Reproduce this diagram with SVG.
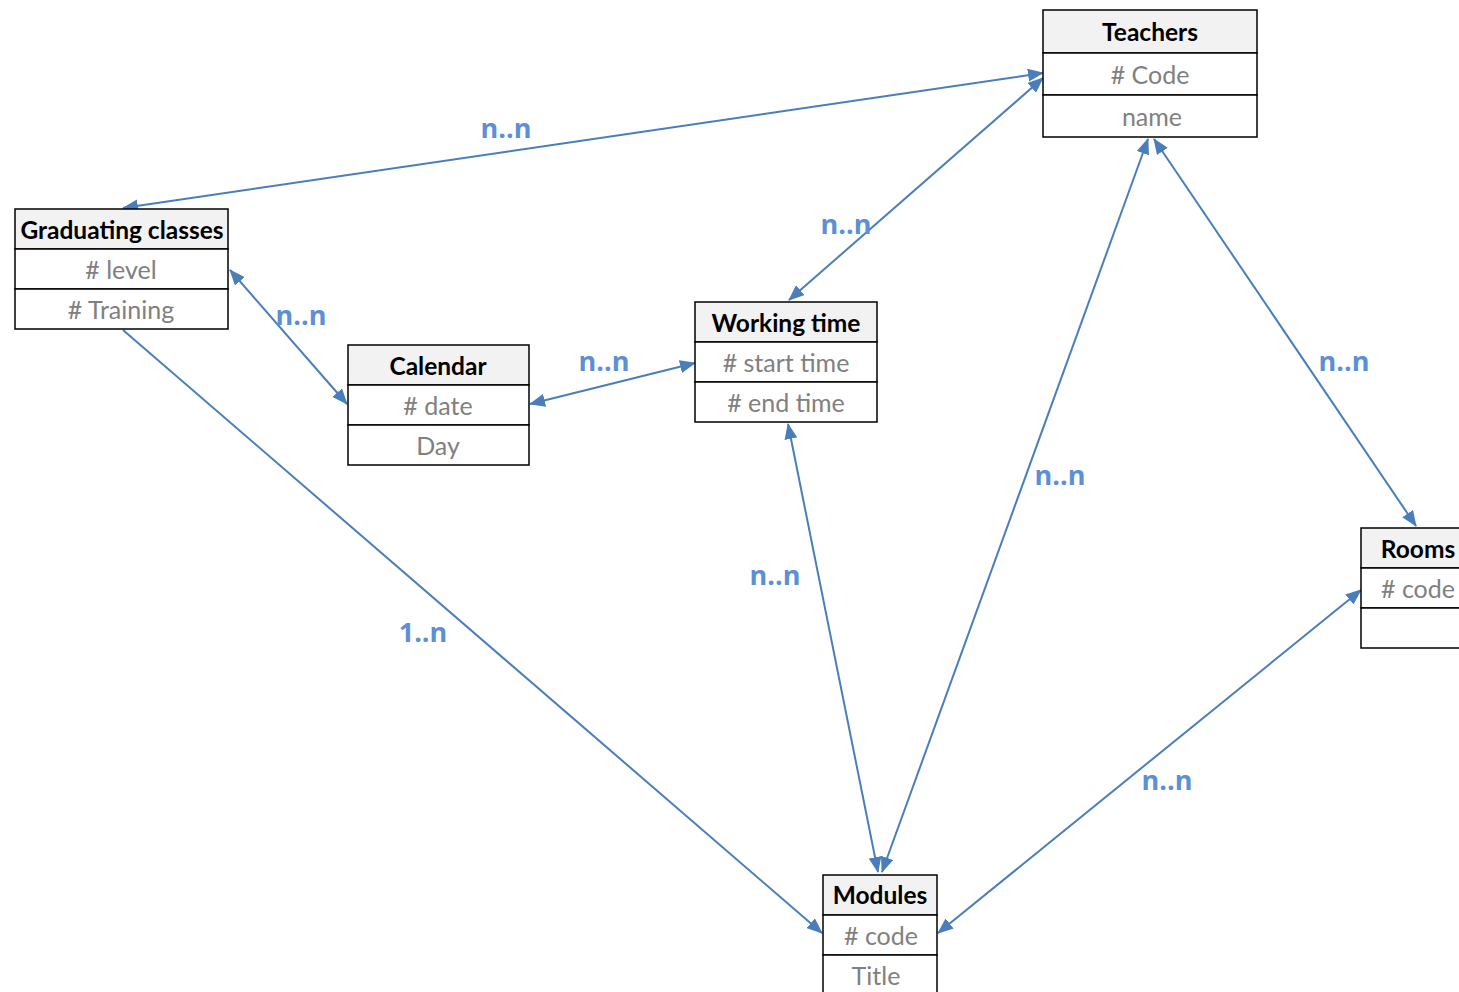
<svg xmlns="http://www.w3.org/2000/svg" width="1459" height="992" viewBox="0 0 1459 992">
<style>
.box{fill:#fff;stroke:#000;stroke-width:1.5}
.hd{fill:#f2f2f2;stroke:#000;stroke-width:1.5}
.t{font-family:Lato,"Open Sans","Liberation Sans",sans-serif;font-weight:bold;font-size:24.5px;fill:#000;text-anchor:middle}
.a{font-family:Lato,"Open Sans","Liberation Sans",sans-serif;font-size:25px;fill:#808080;text-anchor:middle}
.l{font-family:"Open Sans",Lato,"Liberation Sans",sans-serif;font-weight:bold;font-size:27px;fill:#5b8fd6;text-anchor:middle}
.c{stroke:#4a7ebb;stroke-width:2;fill:none;marker-start:url(#ah);marker-end:url(#ah)}
.c1{stroke:#4a7ebb;stroke-width:2;fill:none;marker-end:url(#ah)}
</style>
<defs>
<marker id="ah" viewBox="0 0 16 13" refX="15" refY="6.5" markerWidth="16" markerHeight="13" markerUnits="userSpaceOnUse" orient="auto-start-reverse">
<path d="M0,0 L16,6.5 L0,13 z" fill="#4a7ebb"/>
</marker>
</defs>
<rect width="1459" height="992" fill="#fff"/>
<g id="connectors">
<line class="c" x1="1043" y1="73" x2="123" y2="208"/>
<line class="c" x1="1043" y1="78" x2="789" y2="300"/>
<line class="c" x1="1148" y1="139" x2="882" y2="872"/>
<line class="c" x1="1154" y1="139" x2="1416" y2="526"/>
<line class="c" x1="230" y1="270" x2="347" y2="404"/>
<line class="c" x1="530" y1="404" x2="695" y2="363"/>
<line class="c1" x1="123" y1="330" x2="822" y2="933"/>
<line class="c" x1="1361" y1="590" x2="938" y2="933"/>
<line class="c" x1="788" y1="424" x2="878" y2="872"/>
<text class="l" x="506" y="138">n..n</text>
<text class="l" x="846" y="234">n..n</text>
<text class="l" x="1060" y="485">n..n</text>
<text class="l" x="775" y="585">n..n</text>
<text class="l" x="1344" y="371">n..n</text>
<text class="l" x="301" y="325">n..n</text>
<text class="l" x="604" y="371">n..n</text>
<text class="l" x="423" y="642">1..n</text>
<text class="l" x="1167" y="790">n..n</text>
</g>
<g id="teachers">
<rect class="hd" x="1043" y="10" width="214" height="43"/>
<rect class="box" x="1043" y="53" width="214" height="42"/>
<rect class="box" x="1043" y="95" width="214" height="42"/>
<text class="t" x="1150" y="41">Teachers</text>
<text class="a" x="1150" y="84"># Code</text>
<text class="a" x="1152" y="126">name</text>
</g>
<g id="graduating">
<rect class="hd" x="15" y="209" width="213" height="40"/>
<rect class="box" x="15" y="249" width="213" height="40"/>
<rect class="box" x="15" y="289" width="213" height="40"/>
<text class="t" x="122" y="239">Graduating classes</text>
<text class="a" x="121" y="279"># level</text>
<text class="a" x="121" y="319"># Training</text>
</g>
<g id="calendar">
<rect class="hd" x="348" y="345" width="181" height="40"/>
<rect class="box" x="348" y="385" width="181" height="40"/>
<rect class="box" x="348" y="425" width="181" height="40"/>
<text class="t" x="438" y="375">Calendar</text>
<text class="a" x="438" y="415"># date</text>
<text class="a" x="438" y="455">Day</text>
</g>
<g id="working">
<rect class="hd" x="695" y="302" width="182" height="40"/>
<rect class="box" x="695" y="342" width="182" height="40"/>
<rect class="box" x="695" y="382" width="182" height="40"/>
<text class="t" x="786" y="332">Working time</text>
<text class="a" x="786" y="372"># start time</text>
<text class="a" x="786" y="412"># end time</text>
</g>
<g id="rooms">
<rect class="hd" x="1361" y="528" width="110" height="40"/>
<rect class="box" x="1361" y="568" width="110" height="40"/>
<rect class="box" x="1361" y="608" width="110" height="40"/>
<text class="t" x="1418" y="558">Rooms</text>
<text class="a" x="1418" y="598"># code</text>
</g>
<g id="modules">
<rect class="hd" x="823" y="875" width="114" height="40"/>
<rect class="box" x="823" y="915" width="114" height="40"/>
<rect class="box" x="823" y="955" width="114" height="40"/>
<text class="t" x="880" y="904">Modules</text>
<text class="a" x="881" y="945"># code</text>
<text class="a" x="876" y="985">Title</text>
</g>
</svg>
